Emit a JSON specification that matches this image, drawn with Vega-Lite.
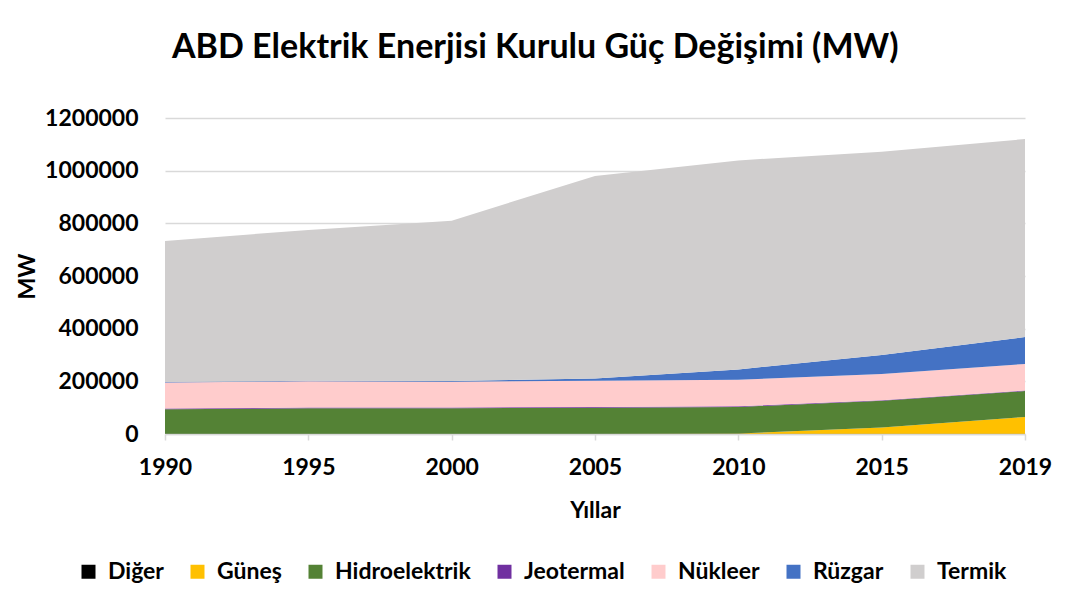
{
  "$schema": "https://vega.github.io/schema/vega-lite/v6.json",
  "autosize": {"type": "none"},
  "padding": {"left": 165, "top": 118, "right": 40, "bottom": 178},
  "width": 860,
  "height": 316,
  "background": "white",
  "title": {
    "text": "ABD Elektrik Enerjisi Kurulu Güç Değişimi (MW)",
    "anchor": "start",
    "frame": "group",
    "dx": 7,
    "offset": 42,
    "font": "Lato",
    "fontSize": 34,
    "fontWeight": "bold",
    "color": "#000000"
  },
  "data": {
    "values": [
      {"yil": "1990", "kaynak": "Diğer", "sira": 1, "mw": 500},
      {"yil": "1990", "kaynak": "Güneş", "sira": 2, "mw": 300},
      {"yil": "1990", "kaynak": "Hidroelektrik", "sira": 3, "mw": 93000},
      {"yil": "1990", "kaynak": "Jeotermal", "sira": 4, "mw": 2600},
      {"yil": "1990", "kaynak": "Nükleer", "sira": 5, "mw": 99600},
      {"yil": "1990", "kaynak": "Rüzgar", "sira": 6, "mw": 1900},
      {"yil": "1990", "kaynak": "Termik", "sira": 7, "mw": 535100},
      {"yil": "1995", "kaynak": "Diğer", "sira": 1, "mw": 500},
      {"yil": "1995", "kaynak": "Güneş", "sira": 2, "mw": 300},
      {"yil": "1995", "kaynak": "Hidroelektrik", "sira": 3, "mw": 97000},
      {"yil": "1995", "kaynak": "Jeotermal", "sira": 4, "mw": 2900},
      {"yil": "1995", "kaynak": "Nükleer", "sira": 5, "mw": 99500},
      {"yil": "1995", "kaynak": "Rüzgar", "sira": 6, "mw": 1700},
      {"yil": "1995", "kaynak": "Termik", "sira": 7, "mw": 573100},
      {"yil": "2000", "kaynak": "Diğer", "sira": 1, "mw": 600},
      {"yil": "2000", "kaynak": "Güneş", "sira": 2, "mw": 400},
      {"yil": "2000", "kaynak": "Hidroelektrik", "sira": 3, "mw": 97000},
      {"yil": "2000", "kaynak": "Jeotermal", "sira": 4, "mw": 2800},
      {"yil": "2000", "kaynak": "Nükleer", "sira": 5, "mw": 97900},
      {"yil": "2000", "kaynak": "Rüzgar", "sira": 6, "mw": 2400},
      {"yil": "2000", "kaynak": "Termik", "sira": 7, "mw": 608900},
      {"yil": "2005", "kaynak": "Diğer", "sira": 1, "mw": 700},
      {"yil": "2005", "kaynak": "Güneş", "sira": 2, "mw": 400},
      {"yil": "2005", "kaynak": "Hidroelektrik", "sira": 3, "mw": 99000},
      {"yil": "2005", "kaynak": "Jeotermal", "sira": 4, "mw": 2300},
      {"yil": "2005", "kaynak": "Nükleer", "sira": 5, "mw": 100000},
      {"yil": "2005", "kaynak": "Rüzgar", "sira": 6, "mw": 8700},
      {"yil": "2005", "kaynak": "Termik", "sira": 7, "mw": 768900},
      {"yil": "2010", "kaynak": "Diğer", "sira": 1, "mw": 800},
      {"yil": "2010", "kaynak": "Güneş", "sira": 2, "mw": 1000},
      {"yil": "2010", "kaynak": "Hidroelektrik", "sira": 3, "mw": 101000},
      {"yil": "2010", "kaynak": "Jeotermal", "sira": 4, "mw": 2400},
      {"yil": "2010", "kaynak": "Nükleer", "sira": 5, "mw": 101000},
      {"yil": "2010", "kaynak": "Rüzgar", "sira": 6, "mw": 39100},
      {"yil": "2010", "kaynak": "Termik", "sira": 7, "mw": 793700},
      {"yil": "2015", "kaynak": "Diğer", "sira": 1, "mw": 900},
      {"yil": "2015", "kaynak": "Güneş", "sira": 2, "mw": 24000},
      {"yil": "2015", "kaynak": "Hidroelektrik", "sira": 3, "mw": 101000},
      {"yil": "2015", "kaynak": "Jeotermal", "sira": 4, "mw": 2500},
      {"yil": "2015", "kaynak": "Nükleer", "sira": 5, "mw": 99000},
      {"yil": "2015", "kaynak": "Rüzgar", "sira": 6, "mw": 73000},
      {"yil": "2015", "kaynak": "Termik", "sira": 7, "mw": 771600},
      {"yil": "2019", "kaynak": "Diğer", "sira": 1, "mw": 1000},
      {"yil": "2019", "kaynak": "Güneş", "sira": 2, "mw": 64000},
      {"yil": "2019", "kaynak": "Hidroelektrik", "sira": 3, "mw": 98000},
      {"yil": "2019", "kaynak": "Jeotermal", "sira": 4, "mw": 2500},
      {"yil": "2019", "kaynak": "Nükleer", "sira": 5, "mw": 100500},
      {"yil": "2019", "kaynak": "Rüzgar", "sira": 6, "mw": 102000},
      {"yil": "2019", "kaynak": "Termik", "sira": 7, "mw": 752000}
    ]
  },
  "mark": {"type": "area", "opacity": 1},
  "encoding": {
    "x": {
      "field": "yil",
      "type": "ordinal",
      "scale": {"type": "point", "padding": 0},
      "axis": {
        "title": "Yıllar",
        "titleFont": "Lato",
        "titleFontSize": 23,
        "titleFontWeight": "bold",
        "titleColor": "#000000",
        "titlePadding": 20,
        "labelAngle": 0,
        "labelFont": "Lato",
        "labelFontSize": 23,
        "labelFontWeight": "bold",
        "labelColor": "#000000",
        "labelPadding": 16,
        "domainColor": "#d9d9d9",
        "domainWidth": 1.5,
        "tickColor": "#d9d9d9",
        "tickWidth": 1.5,
        "tickSize": 6,
        "grid": false
      }
    },
    "y": {
      "field": "mw",
      "type": "quantitative",
      "stack": "zero",
      "scale": {"domain": [0, 1200000], "nice": false},
      "axis": {
        "title": "MW",
        "titleFont": "Lato",
        "titleFontSize": 23,
        "titleFontWeight": "bold",
        "titleColor": "#000000",
        "titlePadding": 5,
        "values": [0, 200000, 400000, 600000, 800000, 1000000, 1200000],
        "format": "d",
        "labelFont": "Lato",
        "labelFontSize": 23,
        "labelFontWeight": "bold",
        "labelColor": "#000000",
        "labelPadding": 27,
        "ticks": false,
        "domain": false,
        "grid": true,
        "gridColor": "#d9d9d9",
        "gridWidth": 1.5
      }
    },
    "color": {
      "field": "kaynak",
      "type": "nominal",
      "scale": {
        "domain": ["Diğer", "Güneş", "Hidroelektrik", "Jeotermal", "Nükleer", "Rüzgar", "Termik"],
        "range": ["#000000", "#FFC000", "#548235", "#7030A0", "#FFCCCC", "#4472C4", "#D0CECE"]
      },
      "legend": {
        "title": null,
        "orient": "none",
        "direction": "horizontal",
        "legendX": -88,
        "legendY": 442,
        "symbolType": "square",
        "symbolSize": 196,
        "symbolStrokeWidth": 0,
        "symbolOpacity": 1,
        "labelFont": "Lato",
        "labelFontSize": 23,
        "labelFontWeight": "bold",
        "labelColor": "#000000",
        "labelOffset": 8,
        "columnPadding": 22
      }
    },
    "order": {"field": "sira", "type": "quantitative", "sort": "ascending"}
  },
  "config": {
    "view": {"stroke": null},
    "axis": {"labelOverlap": false}
  }
}
